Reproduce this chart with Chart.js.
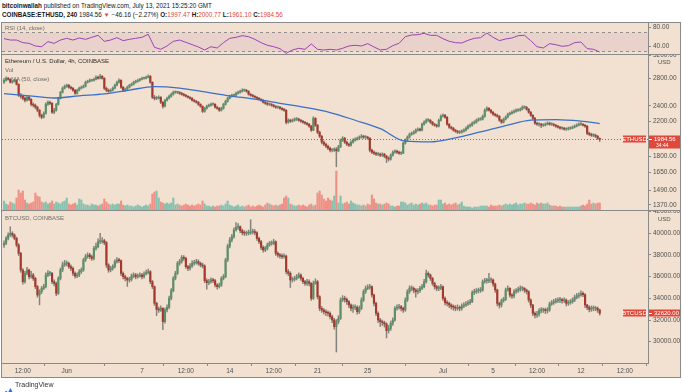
<!DOCTYPE html>
<html><head><meta charset="utf-8">
<script src="https://cdn.jsdelivr.net/npm/chart.js@4.4.1/dist/chart.umd.min.js"></script>
<style>
html,body{margin:0;padding:0;background:#fff}
body{width:682px;height:392px;position:relative;overflow:hidden;font-family:"Liberation Sans",Arial,sans-serif;color:#131722}
.abs{position:absolute;white-space:nowrap}
#frame{position:absolute;left:1px;top:22px;width:678px;height:354px;border:1px solid #8a8a8a;background:#f2e1d0}
canvas{position:absolute;left:2px}
.sep{position:absolute;left:2px;width:678px;height:1px;background:#8a8a8a}
.hd{font-size:6.3px;line-height:9px}
.red{color:#e0483c}
.pl{font-size:6px;line-height:7px;color:#6b6b6b}
</style></head><body>
<div class="abs hd" style="left:2px;top:1px"><b>bitcoinwallah</b> published on TradingView.com, July 13, 2021 15:25:20 GMT</div>
<div class="abs hd" style="left:2px;top:10px"><b>COINBASE:ETHUSD, 240</b> 1984.56 <span class="red">▼</span> −46.16 (−2.27%) <b>O:</b><span class="red">1997.47</span> <b>H:</b><span class="red">2000.77</span> <b>L:</b><span class="red">1961.10</span> <b>C:</b><span class="red">1984.56</span></div>
<div id="frame"></div>
<canvas id="cRsi" width="678" height="31" style="top:23px"></canvas>
<div class="sep" style="top:54px"></div>
<canvas id="cEth" width="678" height="155" style="top:55px"></canvas>
<div class="sep" style="top:210px"></div>
<canvas id="cBtc" width="678" height="166" style="top:211px"></canvas>
<div class="sep" style="top:363px;width:646px"></div>
<div class="abs pl" style="left:5px;top:25px">RSI (14, close)</div>
<div class="abs pl" style="left:5px;top:58px;color:#2a2a2a">Ethereum / U.S. Dollar, 4h, COINBASE</div>
<div class="abs pl" style="left:5px;top:67px">Vol</div>
<div class="abs pl" style="left:11px;top:76px">MA (50, close)</div>
<div class="abs pl" style="left:5px;top:215px">BTCUSD, COINBASE</div>
<div class="abs pl" style="left:658px;top:59px;color:#505050">USD</div>
<div class="abs pl" style="left:658px;top:216px;color:#505050">USD</div>
<div class="abs" style="left:3px;top:381px"><svg width="11" height="8" viewBox="0 0 11 8"><path d="M0 8 L3 3.5 L5 5.5 L7.5 1 L11 8 Z" fill="#2e6fd8"/></svg></div>
<div class="abs" style="left:15px;top:381px;font-size:7px;line-height:8px;color:#333">TradingView</div>
<script>
// ---------- DATA ----------
// 4h candles from 27 May 2021 00:00 UTC (index 0) to 13 Jul 2021 12:00 UTC (index 285)
const ethFirstOpen = 2740;
const ethClose = [2773,2805,2789,2742,2757,2773,2711,2547,2533,2505,
2477,2519,2491,2421,2408,2381,2341,2275,2250,2301,
2421,2449,2435,2314,2341,2421,2505,2591,2651,2681,
2696,2666,2651,2621,2577,2621,2651,2666,2681,2742,
2757,2773,2773,2789,2821,2805,2837,2805,2651,2621,
2606,2621,2651,2696,2742,2773,2666,2621,2636,2666,
2696,2711,2742,2757,2773,2789,2805,2805,2821,2837,
2742,2519,2505,2505,2519,2449,2394,2477,2505,2533,
2562,2591,2591,2591,2577,2562,2547,2533,2519,2505,
2477,2463,2449,2421,2394,2327,2367,2394,2408,2421,
2421,2381,2367,2341,2367,2421,2463,2505,2533,2547,
2547,2577,2591,2606,2621,2621,2606,2562,2547,2533,
2519,2505,2491,2477,2449,2435,2421,2421,2408,2394,
2381,2381,2367,2354,2341,2187,2212,2200,2212,2225,
2225,2212,2200,2187,2175,2163,2139,2091,2237,2151,
2067,2021,1954,1932,1910,1889,1867,1867,1878,1860,
1903,1976,1998,1954,1932,1921,1954,1976,1987,1998,
2010,2021,2010,2010,1998,1867,1846,1836,1826,1826,
1815,1826,1805,1785,1775,1815,1846,1857,1846,1836,
1836,1943,1976,2010,2043,2054,2067,2091,2103,2091,
2163,2187,2212,2212,2187,2163,2151,2139,2212,2262,
2275,2250,2163,2127,2114,2091,2079,2067,2067,2079,
2091,2114,2139,2151,2175,2187,2212,2225,2225,2262,
2341,2367,2341,2314,2288,2275,2262,2212,2187,2225,
2250,2288,2301,2314,2327,2341,2341,2354,2381,2381,
2354,2314,2275,2237,2175,2163,2163,2151,2151,2163,
2175,2163,2163,2151,2139,2127,2114,2114,2103,2103,
2114,2114,2127,2139,2151,2163,2163,2151,2139,2054,
2043,2032,2032,2021,1997.47,1984.56];
const ethHigh = [2800,2830,2822,2800,2770,2790,2785,2720,2575,2550,
2525,2540,2535,2500,2440,2425,2395,2350,2290,2320,
2440,2470,2465,2445,2365,2435,2520,2605,2670,2700,
2715,2710,2685,2665,2635,2640,2668,2685,2700,2760,
2775,2795,2790,2810,2845,2840,2870,2850,2815,2670,
2640,2640,2670,2715,2760,2795,2785,2680,2655,2685,
2712,2730,2760,2775,2792,2805,2825,2822,2840,2860,
2850,2750,2545,2530,2540,2530,2460,2490,2522,2550,
2580,2610,2612,2608,2600,2590,2575,2560,2545,2530,
2515,2490,2475,2460,2430,2400,2380,2410,2425,2438,
2440,2432,2395,2378,2382,2435,2478,2520,2550,2565,
2566,2595,2610,2625,2642,2640,2635,2615,2575,2560,
2545,2530,2518,2502,2488,2462,2450,2438,2432,2420,
2405,2398,2392,2378,2365,2350,2230,2225,2228,2242,
2245,2238,2225,2210,2198,2185,2175,2150,2255,2245,
2160,2080,2030,1968,1945,1922,1900,1885,1892,1895,
1920,1990,2015,2008,1965,1945,1968,1990,2003,2012,
2025,2040,2032,2026,2020,2005,1880,1860,1848,1842,
1838,1840,1835,1815,1798,1828,1860,1872,1868,1858,
1850,1955,1990,2025,2058,2070,2085,2108,2120,2115,
2178,2205,2230,2232,2222,2198,2175,2162,2228,2280,
2295,2288,2258,2172,2138,2125,2102,2090,2085,2095,
2108,2130,2155,2168,2192,2205,2228,2242,2245,2280,
2358,2385,2378,2352,2325,2300,2290,2272,2225,2240,
2268,2305,2318,2332,2345,2360,2358,2372,2400,2398,
2392,2365,2325,2285,2248,2190,2180,2175,2168,2178,
2192,2188,2180,2172,2162,2150,2138,2130,2125,2118,
2128,2130,2142,2155,2168,2180,2182,2172,2162,2148,
2068,2056,2048,2045,2030,2000.77];
const ethLow = [2725,2760,2775,2730,2728,2745,2700,2530,2505,2480,
2455,2465,2470,2400,2385,2360,2320,2250,2230,2240,
2290,2405,2415,2300,2295,2330,2410,2495,2580,2640,
2665,2650,2635,2605,2560,2565,2610,2640,2655,2670,
2730,2745,2755,2760,2780,2790,2795,2790,2630,2600,
2590,2595,2610,2640,2685,2730,2650,2600,2605,2625,
2655,2685,2700,2730,2745,2760,2778,2790,2795,2810,
2725,2500,2480,2485,2495,2430,2370,2385,2465,2495,
2520,2550,2575,2572,2560,2548,2535,2520,2505,2490,
2465,2450,2435,2405,2380,2310,2315,2355,2385,2395,
2405,2370,2352,2325,2330,2355,2410,2452,2495,2520,
2530,2535,2565,2580,2595,2605,2592,2548,2532,2520,
2505,2490,2478,2462,2435,2420,2405,2405,2392,2380,
2365,2364,2352,2340,2325,2165,2175,2185,2190,2200,
2208,2198,2185,2172,2160,2148,2125,2075,2085,2135,
2050,2005,1935,1915,1895,1872,1850,1850,1855,1700,
1850,1895,1962,1940,1915,1905,1910,1942,1965,1975,
1985,1998,1995,1995,1985,1850,1830,1820,1810,1810,
1800,1802,1790,1740,1755,1765,1805,1835,1832,1822,
1820,1830,1932,1965,2000,2032,2042,2055,2080,2078,
2082,2150,2175,2196,2172,2148,2138,2125,2130,2200,
2250,2235,2148,2112,2100,2078,2065,2052,2050,2055,
2068,2080,2102,2128,2140,2165,2175,2200,2210,2215,
2252,2330,2328,2300,2272,2260,2248,2198,2172,2178,
2215,2240,2275,2290,2302,2315,2325,2330,2345,2365,
2340,2300,2260,2222,2160,2148,2140,2120,2135,2140,
2155,2150,2148,2138,2125,2115,2102,2100,2090,2088,
2092,2100,2108,2118,2130,2142,2148,2138,2125,2040,
2028,2018,2015,2005,1985,1961.10];
// volume, thousand ETH per 4h candle
const ethVolume = [36,24,20,32,28,24,48,80,68,76,
40,28,24,28,32,68,56,52,32,28,
32,24,28,36,24,32,28,24,32,36,
48,24,20,24,28,20,44,40,24,20,
20,16,24,20,20,16,20,24,44,32,
24,20,24,20,24,24,36,20,16,20,
16,16,12,16,20,16,12,16,20,16,
24,64,72,76,48,32,28,24,28,24,
28,48,20,24,20,16,20,24,20,16,
20,16,20,24,20,36,24,16,16,12,
16,12,16,16,20,16,24,36,20,16,
12,16,20,12,16,12,16,20,12,16,
12,16,20,16,12,20,28,24,20,16,
20,16,20,24,48,56,48,24,20,16,
16,20,16,20,16,12,20,24,16,20,
68,76,60,44,36,48,40,36,56,156,
28,56,24,28,32,24,36,28,24,20,
20,16,20,16,24,20,60,44,28,24,
24,20,24,28,24,16,16,12,16,16,
32,32,28,20,24,28,20,24,20,24,
28,24,28,20,20,16,20,20,40,40,
24,28,20,24,20,24,28,20,24,32,
16,12,12,12,8,12,12,12,16,16,
16,16,12,20,16,16,16,20,16,20,
24,20,24,20,24,28,20,24,24,28,
24,24,28,24,20,28,24,28,24,24,
28,20,16,16,16,12,16,12,12,12,
12,12,12,12,12,12,16,20,16,24,
40,24,28,24,28,28];
// MA(50, close) read at these candle indices
const maIndex = [0,12,24,36,48,60,72,84,96,108,120,132,144,156,168,180,192,204,216,228,240,252,264,276,285];
const maValues = [2573,2540,2509,2540,2568,2624,2675,2654,2598,2540,2492,2435,2379,2311,2212,2109,1965,1957,2003,2071,2146,2213,2221,2202,2171];
// RSI(14) read every 3 candles
const rsiStep = 3;
const rsiValues = [57,54,54,48.5,47,41.5,40,50.6,47,54,
57.6,54,58.3,55.5,59.7,63.9,51.3,54,59,52.7,
55.5,57.6,59.7,66,38.7,34.5,41.5,51.3,54,49.2,
44.3,39.4,33.1,40,37.3,48.5,57.6,59.7,63.2,61.1,
55.5,48.5,42.9,40,35.9,26,33.1,36.6,34.5,45.7,
34.5,33.1,34.5,33.1,36.6,41.5,42.9,41.5,46.4,39.4,
33.1,34.5,42.2,47.1,61.1,64.6,65.3,68.1,63.9,63.9,
56.9,51.3,48.5,47.8,53.4,57.6,59,68.8,59.7,52.7,
56.2,58.3,63.2,63.9,52.7,40,37.3,46.4,44.2,40.8,
42.2,48.5,49.9,35.9,34.5,28.8];
const btcFirstOpen = 38900;
const btcClose = [39075,39536,39843,39997,39843,39536,38921,38152,36614,35538,
36307,36614,35999,36153,35846,35077,34308,34616,34923,35077,
36153,36307,36307,35538,35384,34462,35846,36614,37076,37230,
37230,36922,36768,36307,36061,36153,36461,36614,37537,37845,
37998,37845,37691,38613,38767,39228,39228,39320,39136,37076,
36614,36768,36922,37384,37537,37475,36307,35999,35846,35692,
35753,36061,36153,35999,36061,36153,35999,36245,36369,36461,
35538,35077,33539,32986,32924,33078,31848,32924,33170,34001,
34708,35846,36307,37230,37384,37783,37691,36922,36768,36984,
37230,37291,37384,37230,37076,36984,35630,35446,35538,35692,
35630,35231,35077,35231,35846,35999,37537,38829,39382,39690,
40304,40550,40612,40243,40058,39997,39997,40058,40120,40151,
40058,39536,39228,38706,38460,38613,38921,39075,39075,39228,
38152,37998,37906,37845,37906,36461,36307,35692,35753,35846,
35999,36153,35846,35538,35384,35538,35384,34001,35384,35538,
34154,33078,32924,32770,32678,32617,32310,32002,31387,31848,
32156,33847,33999,33908,33693,33386,33078,33170,33170,32771,
33078,33847,34616,34923,35015,35077,34308,33539,32617,32002,
31848,31756,31633,31018,31233,31694,32002,33078,33170,33232,
33078,32924,33847,34616,34923,34923,34769,34616,34708,34923,
35077,35538,36307,36153,35846,35384,35077,34923,34923,35077,
34001,33601,33539,33386,33232,33170,33078,33170,33078,33294,
33386,33478,33601,33693,34524,34616,34708,34708,34769,35538,
35630,35630,35692,35692,35323,34769,33539,33386,33785,33908,
34769,34923,34308,34216,34616,34708,34831,34923,34923,34769,
34616,33847,33386,32617,32463,32556,32863,32924,32924,32863,
32924,33478,33601,33693,33785,33847,33847,33785,33847,33539,
33601,33693,33847,34093,34216,34308,34462,34339,33386,33170,
32986,33078,33078,33078,32924,32620];
const btcHigh = [39300,39700,40050,40600,40150,39950,39650,39050,38250,36750,
36500,36850,36700,36500,36300,35950,35200,34800,35100,35300,
36350,36550,36500,36400,35700,35500,36000,36800,37350,37500,
37450,37350,37100,36900,36450,36350,36650,36800,37700,38050,
38200,38150,38000,38800,39100,39500,40000,39600,39450,39250,
37200,36950,37100,37550,37750,37700,37550,36450,36150,35950,
35950,36250,36350,36300,36250,36350,36300,36450,36600,36700,
36550,35650,35150,33650,33200,33300,33150,33100,33400,34200,
34900,36000,36500,37400,37600,37950,37950,37800,37050,37200,
37450,37500,37600,37550,37350,37250,37100,35800,35750,35900,
35850,35750,35350,35400,36000,36200,37700,39000,39600,39900,
40500,41000,40900,40700,40400,40250,40200,40300,41250,40400,
40350,40150,39650,39350,38850,38800,39100,39250,39300,39450,
39300,38300,38150,38100,38100,38000,36650,36450,35950,36050,
36200,36350,36250,35950,35650,35750,35700,35450,35600,35800,
35650,34250,33250,33050,32950,32850,32750,32450,32150,32050,
32400,34050,34250,34200,34050,33800,33500,33400,33400,33300,
33300,34050,34800,35150,35250,35300,35150,34400,33650,32750,
32150,32000,31900,31750,31500,31900,32200,33250,33400,33450,
33350,33200,34050,34800,35150,35150,35050,34900,34900,35100,
35300,35750,36600,36450,36250,35950,35500,35200,35150,35300,
35150,34150,33800,33650,33500,33400,33350,33400,33300,33500,
33600,33700,33800,33900,34700,34850,34900,34950,35000,35700,
35850,35850,36300,35900,35800,35400,34850,33650,33950,34100,
34950,35150,35000,34450,34800,34900,35050,35150,35100,35000,
34850,34700,33950,33450,32750,32800,33050,33150,33100,33100,
33150,33650,33800,33900,34000,34050,34100,34000,34050,33950,
33800,33900,34050,34300,34450,34500,34700,34600,34450,33450,
33300,33300,33300,33250,33200,33000];
const btcLow = [38700,38950,39400,39700,39650,39400,38750,37950,36400,35300,
35400,36150,35800,35850,35650,34900,34100,33400,34450,34800,
34950,36000,36100,35350,35150,34250,34350,35700,36450,36950,
37000,36750,36550,36100,35850,35900,36000,36300,36500,37400,
37700,37650,37500,37550,38450,38650,39050,39100,38950,36850,
36400,36450,36600,36800,37250,37300,36100,35800,35600,35100,
35500,35600,35900,35800,35850,35950,35800,35850,36150,36250,
35350,34900,33350,32400,32700,32800,31100,31700,32750,33050,
33850,34600,35700,36200,37050,37250,37500,36750,36550,36600,
36850,37050,37150,37050,36900,36800,35450,34850,35250,35400,
35450,35050,34850,34950,35100,35700,35900,37400,38650,39200,
39550,40200,40350,40050,39850,39800,39800,39850,39900,39950,
39850,39350,39050,38500,38250,38300,38450,38800,38900,38950,
37950,37800,37700,37650,37700,36250,36100,35000,35500,35600,
35700,35850,35650,35350,35200,35200,35150,33800,33900,35300,
33950,32850,32700,32550,32400,32350,32100,31750,31150,29050,
31650,32050,33700,33650,33450,33150,32850,32700,32950,32550,
32600,32950,33700,34450,34800,34850,34100,33300,32400,31750,
31400,31500,31350,30350,30800,31050,31500,31900,32900,33000,
32850,32700,32800,33700,34450,34700,34500,34100,34400,34550,
34800,34950,35400,35950,35650,35200,34850,34700,34700,34800,
33800,33400,33300,33150,33000,32900,32850,32900,32850,32900,
33150,33250,33350,33450,33600,34350,34450,34500,34550,34650,
35400,35400,35450,35450,35100,34550,33300,33100,33200,33650,
33800,34650,34100,34000,34050,34450,34550,34650,34700,34550,
34400,33650,33150,32400,32200,32250,32350,32650,32700,32600,
32650,32800,33350,33450,33550,33600,33600,33550,33600,33300,
33350,33450,33550,33700,33950,34050,34200,34150,33150,32950,
32750,32800,32850,32850,32700,32450];
// axis tick values / labels
const rsiTicks = [80, 40];
const rsiUpper = 70, rsiLower = 30;
const ethTicks = [3200, 2800, 2400, 2200, 1800, 1650, 1490, 1370];
const btcTicks = [42000, 40000, 38000, 36000, 34000, 32000, 30000];
const timeTickIndex = [9, 30, 66, 87, 108, 129, 150, 174, 210, 234, 255, 276, 297];
const timeTickLabels = ['12:00','Jun','7','12:00','14','12:00','21','25','Jul','5','12:00','12','12:00'];
const ethLastLabel = '1984.56', ethTimer = '34:44', btcLastLabel = '32620.00';

// ---------- STYLE ----------
const FONT = '"Liberation Sans", Arial, sans-serif';
const UP = '#5a9069', DN = '#a5382b', WICK = 'rgba(95,95,95,0.75)';
const VUP = '#88c2ae', VDN = '#ee9186';
const MA_C = '#3a70c9', RSI_C = '#9c43b3', LBL = '#e0483c';
const AXIS_W = 32, AX_C = '#8a8a8a';
const X_MIN = -0.96, X_MAX = 308.1;

function xHidden(){ return {type:'linear', min:X_MIN, max:X_MAX, display:false, offset:false}; }
function yRight(extra, tickVals){
  return Object.assign({
    position:'right',
    afterBuildTicks(s){ s.ticks = tickVals.map(v => ({value:v})); },
    afterFit(s){ s.width = AXIS_W; s.paddingTop = 0; s.paddingBottom = 0; },
    ticks:{autoSkip:false, font:{size:6.5, family:FONT}, color:'#505050', padding:2, callback:v => Number(v).toFixed(2)},
    grid:{drawOnChartArea:false, drawTicks:true, tickLength:3, color:AX_C},
    border:{display:true, color:AX_C}
  }, extra);
}
function candles(open0, close, high, low){
  const open = close.map((c,i) => i === 0 ? open0 : close[i-1]);
  const up = close.map((c,i) => c >= open[i]);
  return [
    {type:'bar', order:2, data: close.map((c,i)=>({x:i, y:[open[i], c]})), backgroundColor: up.map(u => u ? UP : DN), barThickness:1.5, minBarLength:1, yAxisID:'y'},
    {type:'bar', order:3, data: close.map((c,i)=>({x:i, y:[low[i], high[i]]})), backgroundColor: WICK, barThickness:0.8, yAxisID:'y'},
    up
  ];
}
function lastPrice(id, value, symbol, label, sub, dotted){
  return {
    id,
    beforeDatasetsDraw(chart){
      if(!dotted) return;
      const {ctx, chartArea:a, scales:{y}} = chart;
      const py = Math.round(y.getPixelForValue(value)) + 0.5;
      ctx.save(); ctx.setLineDash([1,2]); ctx.strokeStyle = LBL; ctx.lineWidth = 1;
      ctx.beginPath(); ctx.moveTo(a.left, py); ctx.lineTo(a.right, py); ctx.stroke(); ctx.restore();
    },
    afterDraw(chart){
      const {ctx, chartArea:a, scales:{y}} = chart;
      const py = Math.round(y.getPixelForValue(value));
      ctx.save();
      ctx.fillStyle = LBL;
      ctx.fillRect(a.right - 25, py - 3.5, 23, 7);
      ctx.fillRect(a.right + 1, py - 3.5, AXIS_W - 1, sub ? 13 : 7);
      ctx.fillStyle = '#fff'; ctx.textBaseline = 'middle';
      ctx.font = '6px ' + FONT; ctx.textAlign = 'center';
      ctx.fillText(symbol, a.right - 13.5, py);
      ctx.textAlign = 'left';
      ctx.fillText(label, a.right + 6, py);
      if(sub){ ctx.font = '5px ' + FONT; ctx.fillText(sub, a.right + 8, py + 6.5); }
      ctx.fillRect(a.right + 1, py, 3, 1);
      ctx.restore();
    }
  };
}
const common = {responsive:false, maintainAspectRatio:false, animation:false, events:[],
  layout:{padding:0}, plugins:{legend:{display:false}, tooltip:{enabled:false}},
  datasets:{bar:{grouped:false, borderWidth:0}}};

// ---------- RSI ----------
const rsiBand = {id:'rsiBand', beforeDatasetsDraw(chart){
  const {ctx, chartArea:a, scales:{y}} = chart;
  const y1 = Math.round(y.getPixelForValue(rsiUpper)) + 0.5, y2 = Math.round(y.getPixelForValue(rsiLower)) + 0.5;
  ctx.save(); ctx.fillStyle = 'rgba(160,70,180,0.10)';
  ctx.fillRect(a.left, y1, a.right - a.left, y2 - y1);
  ctx.setLineDash([3,3]); ctx.strokeStyle = 'rgba(110,110,110,0.7)'; ctx.lineWidth = 1;
  [y1, y2].forEach(v => { ctx.beginPath(); ctx.moveTo(a.left, v); ctx.lineTo(a.right, v); ctx.stroke(); });
  ctx.restore();
}};
new Chart(document.getElementById('cRsi'), {
  type:'line',
  data:{datasets:[{data: rsiValues.map((v,k)=>({x:k*rsiStep, y:v})), borderColor:RSI_C, borderWidth:1, pointRadius:0, tension:0}]},
  options:Object.assign({}, common, {scales:{x:xHidden(), y:yRight({type:'linear', min:24.6, max:89.9}, rsiTicks)}}),
  plugins:[rsiBand]
});

// ---------- ETH ----------
const [ethBody, ethWick, ethUp] = candles(ethFirstOpen, ethClose, ethHigh, ethLow);
new Chart(document.getElementById('cEth'), {
  type:'bar',
  data:{datasets:[
    {type:'line', order:1, data: maIndex.map((x,k)=>({x, y:maValues[k]})), borderColor:MA_C, borderWidth:1.3, pointRadius:0, tension:0.4, cubicInterpolationMode:'monotone', yAxisID:'y'},
    ethBody, ethWick,
    {type:'bar', order:4, yAxisID:'yv', data: ethVolume.map((v,i)=>({x:i, y:v})), backgroundColor: ethUp.map(u => u ? VUP : VDN), barThickness:1.5}
  ]},
  options:Object.assign({}, common, {scales:{
    x:xHidden(),
    y:yRight({type:'logarithmic', min:1331, max:3200}, ethTicks),
    yv:{type:'linear', display:false, min:0, max:620}
  }}),
  plugins:[lastPrice('ethLast', ethClose[ethClose.length-1], 'ETHUSD', ethLastLabel, ethTimer, true)]
});

// ---------- BTC ----------
const [btcBody, btcWick] = candles(btcFirstOpen, btcClose, btcHigh, btcLow);
new Chart(document.getElementById('cBtc'), {
  type:'bar',
  data:{datasets:[btcBody, btcWick]},
  options:Object.assign({}, common, {scales:{
    x:{type:'linear', min:X_MIN, max:X_MAX, offset:false, position:'bottom',
       afterBuildTicks(s){ s.ticks = timeTickIndex.map(v => ({value:v})); },
       afterFit(s){ s.height = 14; s.paddingLeft = 0; s.paddingRight = 0; },
       ticks:{autoSkip:false, maxRotation:0, font:{size:6.5, family:FONT}, color:'#505050', padding:1,
              callback:v => timeTickLabels[timeTickIndex.indexOf(v)]},
       grid:{drawOnChartArea:false, drawTicks:true, tickLength:3, color:AX_C},
       border:{display:true, color:AX_C}},
    y:yRight({type:'linear', min:28035, max:42057}, btcTicks)
  }}),
  plugins:[lastPrice('btcLast', btcClose[btcClose.length-1], 'BTCUSD', btcLastLabel, null, false)]
});
</script>
</body></html>
